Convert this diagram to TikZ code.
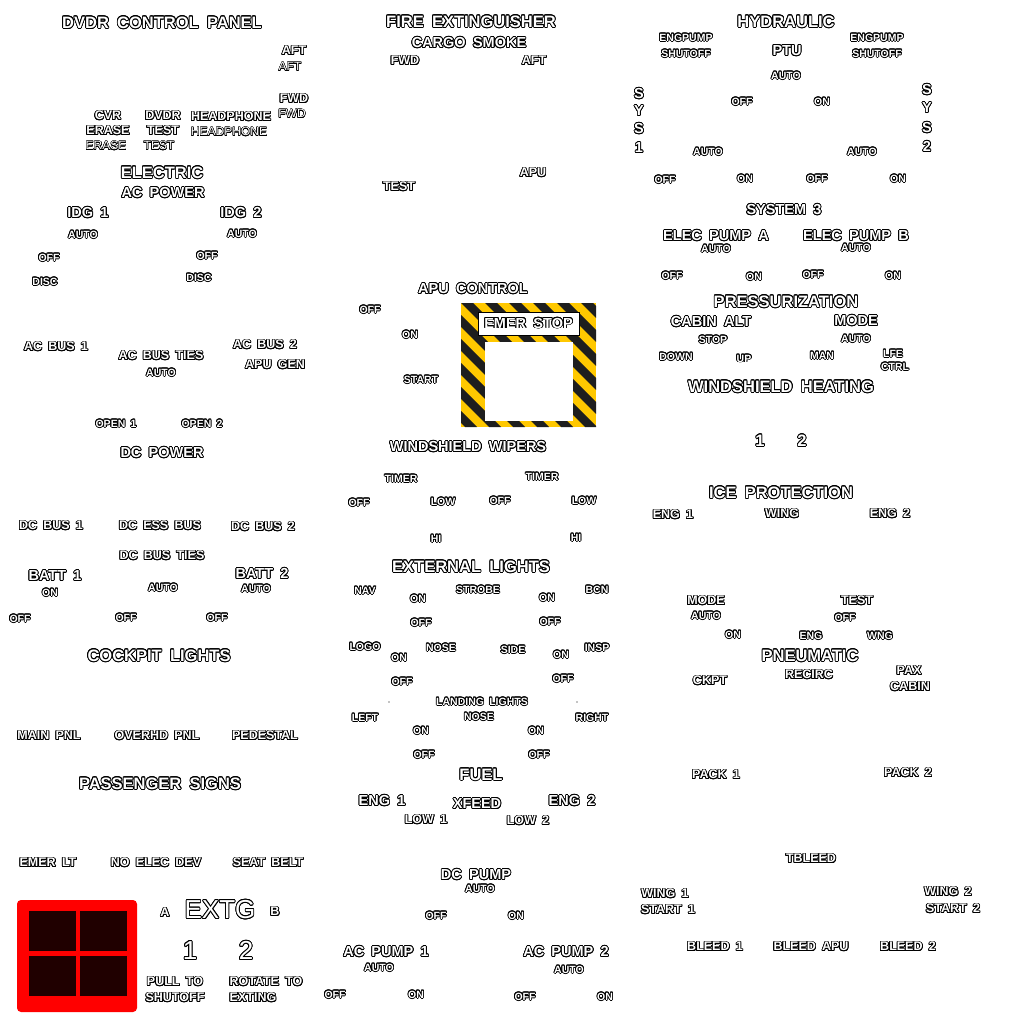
\documentclass[tikz,border=0pt]{standalone}
\usepackage{fontspec}
\setmainfont{Liberation Sans}[WordSpace=1.8]
\usepackage[copies]{contour}
\contourlength{0.8pt}
\newcommand{\otx}[1]{\contour{black}{#1}}
\definecolor{hazard}{HTML}{FFC800}
\definecolor{stripe}{HTML}{1E1E1E}
\definecolor{lampoff}{HTML}{200000}

\begin{document}
\begin{tikzpicture}[x=1pt, y=-1pt,
  ttl/.style={text=white, inner sep=0pt, font=\bfseries\fontsize{16.5}{18}\selectfont},
  hdr/.style={text=white, inner sep=0pt, font=\bfseries\fontsize{14.5}{16}\selectfont},
  sub/.style={text=white, inner sep=0pt, font=\bfseries\fontsize{12.5}{14}\selectfont},
  lbl/.style={text=white, inner sep=0pt, font=\bfseries\fontsize{10.5}{12}\selectfont},
  ghst/.style={text=white, inner sep=0pt, font=\fontsize{12}{14}\selectfont\contourlength{0.4pt}},
  big/.style={text=white, inner sep=0pt, font=\fontsize{26}{28}\selectfont},
  hydbox/.style={draw=gray!70, double=white, double distance=1.2pt, line width=0.7pt}
]
  \fill[white] (0,0) rectangle (1024,1024);
  \useasboundingbox (0,0) rectangle (1024,1024);

  % DVDR
  \node[ttl] (dvdr) at (162,23) {\otx{DVDR CONTROL PANEL}};
  \node[sub] (aftA) at (294,51) {\otx{AFT}};
  \node[ghst] (aftB) at (290,67) {\otx{AFT}};
  \node[sub] (fwdA) at (294,99) {\otx{FWD}};
  \node[ghst] (fwdB) at (292,114) {\otx{FWD}};
  \node[sub] (cvr) at (108,116) {\otx{CVR}};
  \node[sub] (erase) at (108,131) {\otx{ERASE}};
  \node[ghst] (eraseB) at (106,146) {\otx{ERASE}};
  \node[sub] (dvdrTst) at (163,116) {\otx{DVDR}};
  \node[sub] (tst) at (163,131) {\otx{TEST}};
  \node[ghst] (tstB) at (159,146) {\otx{TEST}};
  \node[sub] (hdph) at (231,117) {\otx{HEADPHONE}};
  \node[ghst] (hdphB) at (229,132) {\otx{HEADPHONE}};

  % electric
  \node[ttl] (elec) at (162,173) {\otx{ELECTRIC}};
  \node[hdr] (acPwr) at (163,193) {\otx{AC POWER}};
  \node[hdr] (idgA) at (88,213) {\otx{IDG 1}};
  \node[hdr] (idgB) at (241,213) {\otx{IDG 2}};
  \node[lbl] (idgAauto) at (83,235) {\otx{AUTO}};
  \node[lbl] (idgBauto) at (242,234) {\otx{AUTO}};
  \node[lbl] (idgAoff) at (49,258) {\otx{OFF}};
  \node[lbl] (idgBoff) at (207,256) {\otx{OFF}};
  \node[lbl] (idgAdisc) at (45,282) {\otx{DISC}};
  \node[lbl] (idgBdisc) at (199,278) {\otx{DISC}};
  \node[sub] (acBusA) at (56,347) {\otx{AC BUS 1}};
  \node[sub] (acTies) at (161,356) {\otx{AC BUS TIES}};
  \node[lbl] (acTiesAuto) at (161,373) {\otx{AUTO}};
  \node[sub] (acBusB) at (265,345) {\otx{AC BUS 2}};
  \node[sub] (apuGen) at (275,365) {\otx{APU GEN}};
  \node[lbl] (openA) at (116,424) {\otx{OPEN 1}};
  \node[lbl] (openB) at (202,424) {\otx{OPEN 2}};
  \node[hdr] (dcPwr) at (162,453) {\otx{DC POWER}};
  \node[sub] (dcBusA) at (51,526) {\otx{DC BUS 1}};
  \node[sub] (dcEss) at (160,526) {\otx{DC ESS BUS}};
  \node[sub] (dcBusB) at (263,527) {\otx{DC BUS 2}};
  \node[sub] (dcTies) at (162,556) {\otx{DC BUS TIES}};
  \node[hdr] (battA) at (55,576) {\otx{BATT 1}};
  \node[hdr] (battB) at (262,574) {\otx{BATT 2}};
  \node[lbl] (battAon) at (50,593) {\otx{ON}};
  \node[lbl] (dcTiesAuto) at (163,588) {\otx{AUTO}};
  \node[lbl] (battBauto) at (256,589) {\otx{AUTO}};
  \node[lbl] (battAoff) at (20,619) {\otx{OFF}};
  \node[lbl] (dcTiesOff) at (126,618) {\otx{OFF}};
  \node[lbl] (battBoff) at (217,618) {\otx{OFF}};

  % lights and signs
  \node[ttl] (ckptL) at (159,656) {\otx{COCKPIT LIGHTS}};
  \node[sub] (mainPnl) at (49,736) {\otx{MAIN PNL}};
  \node[sub] (ovhdPnl) at (157,736) {\otx{OVERHD PNL}};
  \node[sub] (pedestal) at (265,736) {\otx{PEDESTAL}};
  \node[ttl] (paxSigns) at (160,784) {\otx{PASSENGER SIGNS}};
  \node[sub] (emerLt) at (48,863) {\otx{EMER LT}};
  \node[sub] (noElec) at (156,863) {\otx{NO ELEC DEV}};
  \node[sub] (seatBelt) at (268,863) {\otx{SEAT BELT}};

  % engine fire handle
  \fill[red, rounded corners=4] (17,900) rectangle (137,1012);
  \foreach \x/\y [count=\i] in {29/911, 80/911, 29/956, 80/956}
    \fill[lampoff] (\x,\y) rectangle ++(47,40);
  \node[sub] (extgA) at (165,913) {\otx{A}};
  \node[big] (extg) at (220,910) {\otx{EXTG}};
  \node[sub] (extgB) at (275,912) {\otx{B}};
  \node[big] (bttlA) at (190,951) {\otx{1}};
  \node[big] (bttlB) at (246,951) {\otx{2}};
  \node[sub] (pullA) at (175,982) {\otx{PULL TO}};
  \node[sub] (pullB) at (175,998) {\otx{SHUTOFF}};
  \node[sub] (rotA) at (266,982) {\otx{ROTATE TO}};
  \node[sub] (rotB) at (253,998) {\otx{EXTING}};

  % fire extinguisher
  \node[ttl] (fire) at (471,22) {\otx{FIRE EXTINGUISHER}};
  \node[hdr] (cargo) at (469,43) {\otx{CARGO SMOKE}};
  \node[sub] (cgoFwd) at (405,61) {\otx{FWD}};
  \node[sub] (cgoAft) at (534,61) {\otx{AFT}};
  \node[sub] (fireApu) at (533,173) {\otx{APU}};
  \node[sub] (fireTst) at (399,187) {\otx{TEST}};

  % APU
  \node[hdr] (apuCtl) at (473,289) {\otx{APU CONTROL}};
  \node[lbl] (apuOff) at (370,310) {\otx{OFF}};
  \node[lbl] (apuOn) at (410,335) {\otx{ON}};
  \node[lbl] (apuStart) at (421,380) {\otx{START}};
  \begin{scope}
    \clip (461,303) rectangle (596,427);
    \fill[hazard] (461,303) rectangle (596,427);
    \foreach \k in {-6,...,6}
      \fill[stripe] ({461+24*\k},303) -- ++(12,0) -- ++(124,124) -- ++(-12,0) -- cycle;
  \end{scope}
  \fill[white] (485,342) rectangle (573,421);
  \node[hdr, draw=black, fill=white, line width=0.8pt, minimum width=101pt, minimum height=23pt] (estop) at (528.5,323.5) {\otx{EMER STOP}};

  % wipers and lights
  \node[hdr] (wipers) at (468,447) {\otx{WINDSHIELD WIPERS}};
  \node[lbl] (timerA) at (401,479) {\otx{TIMER}};
  \node[lbl] (timerB) at (542,477) {\otx{TIMER}};
  \node[lbl] (wpAoff) at (359,503) {\otx{OFF}};
  \node[lbl] (wpAlow) at (443,502) {\otx{LOW}};
  \node[lbl] (wpBoff) at (500,501) {\otx{OFF}};
  \node[lbl] (wpBlow) at (584,501) {\otx{LOW}};
  \node[lbl] (wpAhi) at (436,539) {\otx{HI}};
  \node[lbl] (wpBhi) at (576,538) {\otx{HI}};
  \node[ttl] (extL) at (471,567) {\otx{EXTERNAL LIGHTS}};
  \node[lbl] (nav) at (365,591) {\otx{NAV}};
  \node[lbl] (navOn) at (418,599) {\otx{ON}};
  \node[lbl] (strobe) at (478,590) {\otx{STROBE}};
  \node[lbl] (strOn) at (547,598) {\otx{ON}};
  \node[lbl] (bcn) at (597,590) {\otx{BCN}};
  \node[lbl] (navOff) at (421,623) {\otx{OFF}};
  \node[lbl] (strOff) at (550,622) {\otx{OFF}};
  \node[lbl] (logo) at (365,647) {\otx{LOGO}};
  \node[lbl] (logoOn) at (399,658) {\otx{ON}};
  \node[lbl] (noseT) at (441,648) {\otx{NOSE}};
  \node[lbl] (side) at (513,650) {\otx{SIDE}};
  \node[lbl] (inspOn) at (561,655) {\otx{ON}};
  \node[lbl] (insp) at (597,648) {\otx{INSP}};
  \node[lbl] (logoOff) at (402,682) {\otx{OFF}};
  \node[lbl] (inspOff) at (563,679) {\otx{OFF}};
  \node[lbl] (ldg) at (482,702) {\otx{LANDING LIGHTS}};
  \fill (389,702) circle (0.7);
  \fill (577,702) circle (0.7);
  \node[lbl] (ldgL) at (365,718) {\otx{LEFT}};
  \node[lbl] (ldgN) at (479,717) {\otx{NOSE}};
  \node[lbl] (ldgR) at (592,718) {\otx{RIGHT}};
  \node[lbl] (ldgLon) at (421,731) {\otx{ON}};
  \node[lbl] (ldgRon) at (536,731) {\otx{ON}};
  \node[lbl] (ldgLoff) at (424,755) {\otx{OFF}};
  \node[lbl] (ldgRoff) at (539,755) {\otx{OFF}};

  % fuel
  \node[ttl] (fuel) at (481,775) {\otx{FUEL}};
  \node[hdr] (fuelEngA) at (382,801) {\otx{ENG 1}};
  \node[hdr] (xfeed) at (477,804) {\otx{XFEED}};
  \node[hdr] (fuelEngB) at (572,801) {\otx{ENG 2}};
  \node[sub] (lowA) at (426,820) {\otx{LOW 1}};
  \node[sub] (lowB) at (528,821) {\otx{LOW 2}};
  \node[hdr] (dcPump) at (476,875) {\otx{DC PUMP}};
  \node[lbl] (dcPauto) at (480,889) {\otx{AUTO}};
  \node[lbl] (dcPoff) at (436,916) {\otx{OFF}};
  \node[lbl] (dcPon) at (516,916) {\otx{ON}};
  \node[hdr] (acPumpA) at (386,952) {\otx{AC PUMP 1}};
  \node[lbl] (acPAauto) at (379,968) {\otx{AUTO}};
  \node[hdr] (acPumpB) at (566,952) {\otx{AC PUMP 2}};
  \node[lbl] (acPBauto) at (569,970) {\otx{AUTO}};
  \node[lbl] (acPAoff) at (335,995) {\otx{OFF}};
  \node[lbl] (acPAon) at (416,995) {\otx{ON}};
  \node[lbl] (acPBoff) at (525,997) {\otx{OFF}};
  \node[lbl] (acPBon) at (605,997) {\otx{ON}};

  % hydraulic
  \node[ttl] (hyd) at (786,22) {\otx{HYDRAULIC}};
  \node[lbl] (engpA) at (686,38) {\otx{ENGPUMP}};
  \node[lbl] (shutA) at (686,54) {\otx{SHUTOFF}};
  \node[lbl] (engpB) at (877,38) {\otx{ENGPUMP}};
  \node[lbl] (shutB) at (877,54) {\otx{SHUTOFF}};
  \node[hdr] (ptu) at (787,51) {\otx{PTU}};
  \node[lbl] (ptuAuto) at (786,76) {\otx{AUTO}};
  \draw[hydbox] (651,63) rectangle (724,131);
  \draw[hydbox] (842,63) rectangle (914,131);
  \node[lbl] (ptuOff) at (742,102) {\otx{OFF}};
  \node[lbl] (ptuOn) at (822,102) {\otx{ON}};
  \foreach \c/\y [count=\i] in {S/94, Y/111, S/129, 1/148}
    \node[hdr] (sysA\i) at (639,\y) {\otx{\c}};
  \foreach \c/\y [count=\i] in {S/90, Y/108, S/128, 2/147}
    \node[hdr] (sysB\i) at (927,\y) {\otx{\c}};
  \node[lbl] (sysAauto) at (708,152) {\otx{AUTO}};
  \node[lbl] (sysBauto) at (862,152) {\otx{AUTO}};
  \node[lbl] (sysAoff) at (665,180) {\otx{OFF}};
  \node[lbl] (sysAon) at (745,179) {\otx{ON}};
  \node[lbl] (sysBoff) at (817,179) {\otx{OFF}};
  \node[lbl] (sysBon) at (898,179) {\otx{ON}};
  \node[hdr] (sys3) at (784,210) {\otx{SYSTEM 3}};
  \node[hdr] (epA) at (716,236) {\otx{ELEC PUMP A}};
  \node[hdr] (epB) at (856,236) {\otx{ELEC PUMP B}};
  \node[lbl] (epAauto) at (716,249) {\otx{AUTO}};
  \node[lbl] (epBauto) at (856,248) {\otx{AUTO}};
  \node[lbl] (epAoff) at (672,276) {\otx{OFF}};
  \node[lbl] (epAon) at (754,277) {\otx{ON}};
  \node[lbl] (epBoff) at (813,275) {\otx{OFF}};
  \node[lbl] (epBon) at (893,276) {\otx{ON}};

  % pressurization
  \node[ttl] (press) at (786,302) {\otx{PRESSURIZATION}};
  \node[hdr] (cabAlt) at (711,322) {\otx{CABIN ALT}};
  \node[hdr] (pMode) at (856,321) {\otx{MODE}};
  \node[lbl] (cabStop) at (713,340) {\otx{STOP}};
  \node[lbl] (pModeAuto) at (856,339) {\otx{AUTO}};
  \node[lbl] (cabDown) at (676,357) {\otx{DOWN}};
  \node[lbl] (cabUp) at (744,359) {\otx{UP}};
  \node[lbl] (pMan) at (822,356) {\otx{MAN}};
  \node[lbl] (lfe) at (893,354) {\otx{LFE}};
  \node[lbl] (ctrl) at (895,367) {\otx{CTRL}};
  \node[ttl] (wsHeat) at (781,387) {\otx{WINDSHIELD HEATING}};
  \node[ttl] (heatA) at (760,441) {\otx{1}};
  \node[ttl] (heatB) at (802,441) {\otx{2}};

  % ice and pneumatic
  \node[ttl] (ice) at (781,493) {\otx{ICE PROTECTION}};
  \node[sub] (iceEngA) at (673,515) {\otx{ENG 1}};
  \node[sub] (iceWing) at (782,514) {\otx{WING}};
  \node[sub] (iceEngB) at (890,514) {\otx{ENG 2}};
  \node[sub] (pnMode) at (706,601) {\otx{MODE}};
  \node[lbl] (pnAuto) at (706,616) {\otx{AUTO}};
  \node[sub] (pnTest) at (857,601) {\otx{TEST}};
  \node[lbl] (pnOff) at (845,618) {\otx{OFF}};
  \node[lbl] (pnOn) at (733,635) {\otx{ON}};
  \node[lbl] (pnEng) at (811,636) {\otx{ENG}};
  \node[lbl] (pnWng) at (880,636) {\otx{WNG}};
  \node[ttl] (pneu) at (810,656) {\otx{PNEUMATIC}};
  \node[sub] (ckpt) at (710,681) {\otx{CKPT}};
  \node[sub] (recirc) at (809,675) {\otx{RECIRC}};
  \node[sub] (pax) at (909,671) {\otx{PAX}};
  \node[sub] (cabin) at (910,687) {\otx{CABIN}};
  \node[sub] (packA) at (716,775) {\otx{PACK 1}};
  \node[sub] (packB) at (908,773) {\otx{PACK 2}};
  \node[sub] (tbleed) at (811,859) {\otx{TBLEED}};
  \node[sub] (wingA) at (665,894) {\otx{WING 1}};
  \node[sub] (startA) at (668,910) {\otx{START 1}};
  \node[sub] (wingB) at (948,892) {\otx{WING 2}};
  \node[sub] (startB) at (953,909) {\otx{START 2}};
  \node[sub] (bleedA) at (715,947) {\otx{BLEED 1}};
  \node[sub] (bleedApu) at (811,947) {\otx{BLEED APU}};
  \node[sub] (bleedB) at (908,947) {\otx{BLEED 2}};
\end{tikzpicture}
\end{document}
